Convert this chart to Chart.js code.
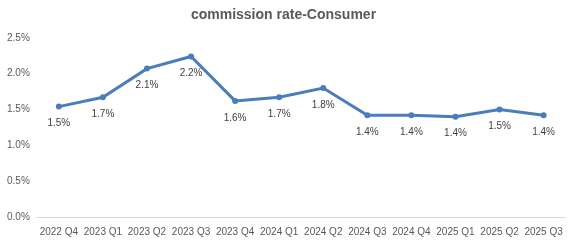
<!DOCTYPE html>
<html>
<head>
<meta charset="utf-8">
<script src="https://cdn.jsdelivr.net/npm/chart.js@4/dist/chart.umd.min.js"></script>
<style>
  html, body { margin: 0; padding: 0; background: #fff; }
  #wrap { width: 572px; height: 241px; }
</style>
</head>
<body>
<div id="wrap"><canvas id="lineChart"></canvas></div>
<script>
var labels = ["2022 Q4", "2023 Q1", "2023 Q2", "2023 Q3", "2023 Q4", "2024 Q1",
              "2024 Q2", "2024 Q3", "2024 Q4", "2025 Q1", "2025 Q2", "2025 Q3"];
var rates = [1.54, 1.67, 2.07, 2.24, 1.62, 1.67, 1.80, 1.42, 1.42, 1.40, 1.50, 1.42];
var yTicks = [0, 0.5, 1.0, 1.5, 2.0, 2.5];

// simple value labels under each point
var pointLabels = {
    id: "pointLabels",
    afterDatasetsDraw: function (chart) {
        var ctx = chart.ctx;
        var meta = chart.getDatasetMeta(0);
        ctx.save();
        ctx.font = "10px 'Liberation Sans', Arial, sans-serif";
        ctx.fillStyle = "#404040";
        ctx.textAlign = "center";
        ctx.textBaseline = "middle";
        meta.data.forEach(function (pt, i) {
            ctx.fillText(rates[i].toFixed(1) + "%", pt.x, pt.y + 17);
        });
        ctx.restore();
    }
};

var ctx = document.getElementById("lineChart");

var lineChart = new Chart(ctx, {
    type: "line",
    data: {
        labels: labels,
        datasets: [{
            data: rates,
            borderColor: "#4a7ebb",
            backgroundColor: "#4a7ebb",
            borderWidth: 3,
            pointRadius: 3,
            pointBorderWidth: 0,
            tension: 0
        }]
    },
    options: {
        responsive: true,
        maintainAspectRatio: false,
        animation: false,
        layout: { padding: { left: 0, right: 5, top: 0, bottom: -6 } },
        plugins: {
            legend: { display: false },
            tooltip: { enabled: false },
            title: {
                display: true,
                text: "commission rate-Consumer",
                color: "#595959",
                font: { family: "'Liberation Sans', Arial, sans-serif", size: 14, weight: "bold" },
                padding: { top: 7, bottom: 14 }
            }
        },
        scales: {
            x: {
                offset: true,
                grid: { display: false, drawTicks: false },
                border: { color: "#d9d9d9" },
                ticks: {
                    color: "#595959",
                    font: { family: "'Liberation Sans', Arial, sans-serif", size: 10 },
                    maxRotation: 0,
                    autoSkip: false,
                    padding: 9
                }
            },
            y: {
                min: 0,
                max: 2.5,
                afterBuildTicks: function (axis) {
                    axis.ticks = yTicks.map(function (v) { return { value: v }; });
                },
                grid: { display: false, drawTicks: false },
                border: { display: false },
                ticks: {
                    color: "#595959",
                    font: { family: "'Liberation Sans', Arial, sans-serif", size: 10 },
                    padding: 7,
                    callback: function (v) { return v.toFixed(1) + "%"; }
                }
            }
        }
    },
    plugins: [pointLabels]
});
</script>
</body>
</html>
